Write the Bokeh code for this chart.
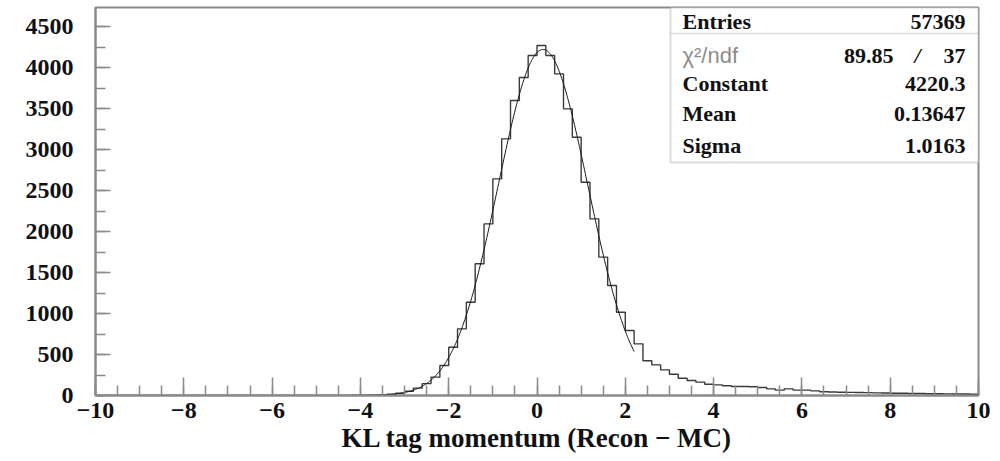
import numpy as np
from bokeh.plotting import figure
from bokeh.models import FixedTicker, Label, BoxAnnotation
from bokeh.embed import file_html
from bokeh.resources import INLINE

# ---------------- data ----------------
BIN_LO, BIN_HI, NBINS = -10.0, 10.0, 100
COUNTS = [
    0, 0, 0, 0, 0, 0, 0, 0, 0, 0,            # -10.0 .. -8.2
    0, 0, 0, 0, 0, 0, 0, 0, 0, 0,            # -8.0 .. -6.2
    0, 0, 0, 0, 0, 0, 0, 1, 2, 3,            # -6.0 .. -4.2
    4, 6, 10, 16, 28, 52, 90, 145, 224, 366,  # -4.0 .. -2.2
    589, 813, 1138, 1606, 2093, 2642, 3130, 3598, 3878, 4146,  # -2.0 .. -0.2
    4268, 4146, 3922, 3496, 3150, 2601, 2154, 1687, 1341, 1016,  # 0.0 .. 1.8
    793, 630, 423, 374, 313, 260, 211, 183, 163, 138,  # 2.0 .. 3.8
    130, 118, 110, 110, 106, 98, 81, 65, 81, 65,       # 4.0 .. 5.8
    65, 57, 45, 42, 40, 38, 36, 35, 32, 30,            # 6.0 .. 7.8
    28, 27, 25, 24, 22, 22, 20, 18, 18, 16,            # 8.0 .. 9.8
]
STAT_NAMES = ["Entries", "\u03c7\u00b2/ndf", "Constant", "Mean", "Sigma"]
ENTRIES = "57369"
CHI2, NDF = "89.85", "37"
CONSTANT, MEAN, SIGMA = 4220.3, 0.13647, 1.0163
FIT_LO, FIT_HI = -3.5, 2.2
XTICKS = [-10, -8, -6, -4, -2, 0, 2, 4, 6, 8, 10]
XTICK_LABELS = ["\u221210", "\u22128", "\u22126", "\u22124", "\u22122", "0", "2", "4", "6", "8", "10"]
YTICKS = [0, 500, 1000, 1500, 2000, 2500, 3000, 3500, 4000, 4500]
X_TITLE = "KL tag momentum (Recon \u2212 MC)"

# ---------------- geometry ----------------
W, H = 1000, 461
FL, FR, FT, FB = 95, 978, 7, 395
XMIN, XMAX, YMIN, YMAX = -10.0, 10.0, 0.0, 4732.0

def dx(px):
    return XMIN + (px - FL) / (FR - FL) * (XMAX - XMIN)

def dy(py):
    return YMIN + (FB - py) / (FB - FT) * (YMAX - YMIN)

GRAY = "#8a8a8a"
SERIF = "Liberation Serif"
STAT_SIZE = "22px"

p = figure(width=W, height=H, x_range=(XMIN, XMAX), y_range=(YMIN, YMAX),
           output_backend="svg", toolbar_location=None,
           min_border_left=FL, min_border_right=W - FR,
           min_border_top=FT, min_border_bottom=H - FB)
p.xgrid.visible = False
p.ygrid.visible = False
p.outline_line_color = GRAY
p.outline_line_width = 2
p.background_fill_color = "white"
p.border_fill_color = "white"

# histogram outline
edges = np.linspace(BIN_LO, BIN_HI, NBINS + 1)
counts = np.array(COUNTS, dtype=float)
hx = np.repeat(edges, 2)[1:-1]
hy = np.repeat(counts, 2)
p.line(hx, hy, line_color="#3a3a3a", line_width=1.4)

# fit curve
fx = np.linspace(FIT_LO, FIT_HI, 300)
fy = CONSTANT * np.exp(-0.5 * ((fx - MEAN) / SIGMA) ** 2)
p.line(fx, fy, line_color="#1a1a1a", line_width=1.0)

# axes
for ax in (p.xaxis[0], p.yaxis[0]):
    ax.axis_line_color = GRAY
    ax.axis_line_width = 2
    ax.major_tick_line_color = GRAY
    ax.minor_tick_line_color = GRAY
    ax.major_tick_line_width = 1.5
    ax.minor_tick_line_width = 1.5
    ax.major_tick_out = 0
    ax.minor_tick_out = 0
    ax.major_label_text_font = SERIF
    ax.major_label_text_font_style = "bold"
    ax.major_label_text_font_size = "24px"
    ax.major_label_text_color = "#111111"

xa = p.xaxis[0]
xa.ticker = FixedTicker(ticks=XTICKS, minor_ticks=list(np.arange(-10, 10.01, 0.5)))
xa.major_label_overrides = {t: l for t, l in zip(XTICKS, XTICK_LABELS)}
xa.major_tick_in = 18
xa.minor_tick_in = 10
xa.major_label_standoff = 7
xa.axis_label = X_TITLE
xa.axis_label_text_font = SERIF
xa.axis_label_text_font_style = "bold"
xa.axis_label_text_font_size = "27px"
xa.axis_label_text_color = "#111111"
xa.axis_label_standoff = 2

ya = p.yaxis[0]
ya.ticker = FixedTicker(ticks=YTICKS, minor_ticks=list(range(0, 4751, 250)))
ya.major_tick_in = 15
ya.minor_tick_in = 10
ya.major_label_standoff = 22

# stats box
BL, BR, BT, BB, SEP = 670, 978, 7, 162, 33
p.add_layout(BoxAnnotation(left=dx(BL), right=dx(BR), top=dy(BT), bottom=dy(BB),
                           fill_color="white", fill_alpha=1.0,
                           line_color=GRAY, line_width=2, level="overlay"))
p.add_layout(BoxAnnotation(left=dx(BL), right=dx(BR), top=dy(SEP), bottom=dy(SEP),
                           fill_alpha=0, line_color=GRAY, line_width=1.5, level="overlay"))

ROW_Y = [21, 55, 83, 113, 145]
NAME_X = 682
VAL_X = 965
vals = [ENTRIES, None, f"{CONSTANT:.1f}", f"{MEAN:.5f}", f"{SIGMA:.4f}"]
for name, ry, v in zip(STAT_NAMES, ROW_Y, vals):
    is_chi = name.startswith("\u03c7")
    p.add_layout(Label(x=dx(NAME_X), y=dy(ry), text=name,
                       text_font="Liberation Sans" if is_chi else SERIF,
                       text_font_style="normal" if is_chi else "bold",
                       text_font_size=STAT_SIZE,
                       text_color="#8c8c8c" if is_chi else "#111111",
                       text_baseline="middle", text_align="left", level="overlay"))
    if v is not None:
        p.add_layout(Label(x=dx(VAL_X), y=dy(ry), text=v, text_font=SERIF,
                           text_font_style="bold", text_font_size=STAT_SIZE,
                           text_color="#111111", text_baseline="middle",
                           text_align="right", level="overlay"))
# chi2 / ndf values
p.add_layout(Label(x=dx(893), y=dy(ROW_Y[1]), text=CHI2, text_font=SERIF,
                   text_font_style="bold", text_font_size=STAT_SIZE, text_color="#111111",
                   text_baseline="middle", text_align="right", level="overlay"))
p.add_layout(Label(x=dx(917), y=dy(ROW_Y[1]), text="/", text_font=SERIF,
                   text_font_style="bold italic", text_font_size=STAT_SIZE, text_color="#111111",
                   text_baseline="middle", text_align="center", level="overlay"))
p.add_layout(Label(x=dx(VAL_X), y=dy(ROW_Y[1]), text=NDF, text_font=SERIF,
                   text_font_style="bold", text_font_size=STAT_SIZE, text_color="#111111",
                   text_baseline="middle", text_align="right", level="overlay"))

open("out.html", "w").write(file_html(p, INLINE))
